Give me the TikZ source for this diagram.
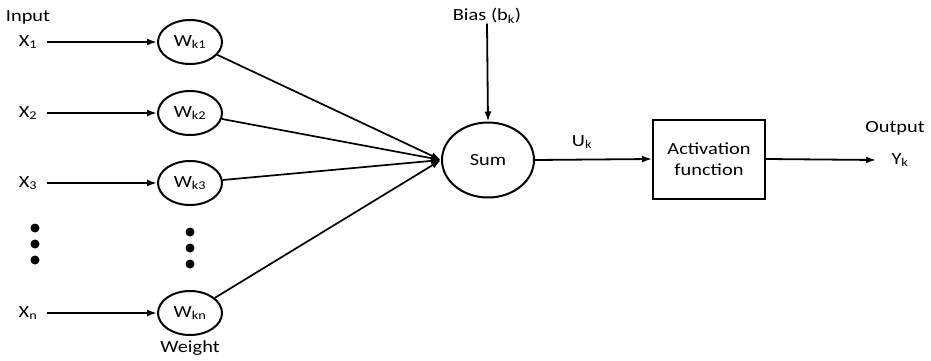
\documentclass[tikz,border=0pt]{standalone}
\usepackage{fontspec}
\setmainfont{Carlito}[FakeStretch=1.2]
\usetikzlibrary{arrows.meta,shapes.geometric}
\tikzset{
  wnode/.style={draw,ellipse,line width=2pt,minimum width=64pt,minimum height=44pt,inner sep=0pt},
  lbl/.style={inner sep=0pt,font=\fontsize{17}{20}\selectfont},
  arr/.style={line width=1.8pt,-{Latex[length=10pt,width=7pt]}},
  conn/.style={line width=1.7pt,-{Latex[length=10pt,width=7pt]}},
  dotm/.style={fill,circle,inner sep=0pt,minimum size=9pt}
}
\begin{document}
\begin{tikzpicture}[x=1pt,y=-1pt]
\useasboundingbox (0,0) rectangle (931,361);
% inputs
\node[lbl] (inp) at (28,17) {Input};
\node[lbl] (x1) at (28,42) {X\textsubscript{1}};
\node[lbl] (x2) at (28,113) {X\textsubscript{2}};
\node[lbl] (x3) at (28,183) {X\textsubscript{3}};
\node[lbl] (xn) at (28,313) {X\textsubscript{n}};
\coordinate (s1) at (47,42);
\coordinate (s2) at (47,113);
\coordinate (s3) at (47,183);
\coordinate (sn) at (47,313);
% weights
\node[wnode,lbl] (w1) at (190,42) {W\textsubscript{k1}};
\node[wnode,lbl] (w2) at (190,113) {W\textsubscript{k2}};
\node[wnode,lbl] (w3) at (190,183) {W\textsubscript{k3}};
\node[wnode,lbl] (wn) at (190,313) {W\textsubscript{kn}};
\node[lbl] (wt) at (190,348) {Weight};
% dots
\node[dotm] (dl1) at (35,228) {};
\node[dotm] (dl2) at (35,244) {};
\node[dotm] (dl3) at (35,260) {};
\node[dotm] (dm1) at (190,232) {};
\node[dotm] (dm2) at (190,248) {};
\node[dotm] (dm3) at (190,264) {};
% sum
\node[draw,ellipse,line width=2pt,minimum width=92pt,minimum height=75pt,lbl] (sum) at (488,160) {Sum};
\coordinate (conv) at (441,160);
\node[lbl] (bias) at (487,16) {Bias (b\textsubscript{k})};
\node[lbl] (uk) at (582,142) {U\textsubscript{k}};
% activation
\node[draw,rectangle,line width=2pt,minimum width=112pt,minimum height=79pt,align=center,lbl,font=\fontsize{17}{21}\selectfont] (act) at (709,159) {Activation\\function};
\coordinate (oend) at (876,160);
\node[lbl] (outp) at (895,128) {Output};
\node[lbl] (yk) at (900,160) {Y\textsubscript{k}};
% arrows
\draw[arr] (s1) -- (w1);
\draw[arr] (s2) -- (w2);
\draw[arr] (s3) -- (w3);
\draw[arr] (sn) -- (wn);
\draw[conn] (w1) -- (conv);
\draw[conn] (w2) -- (conv);
\draw[conn] (w3) -- (conv);
\draw[conn] (wn) -- (conv);
\draw[arr] (bias.south) -- (sum.north);
\draw[arr] (sum.east) -- (act.west);
\draw[arr] (act.east) -- (oend);
\end{tikzpicture}
\end{document}
